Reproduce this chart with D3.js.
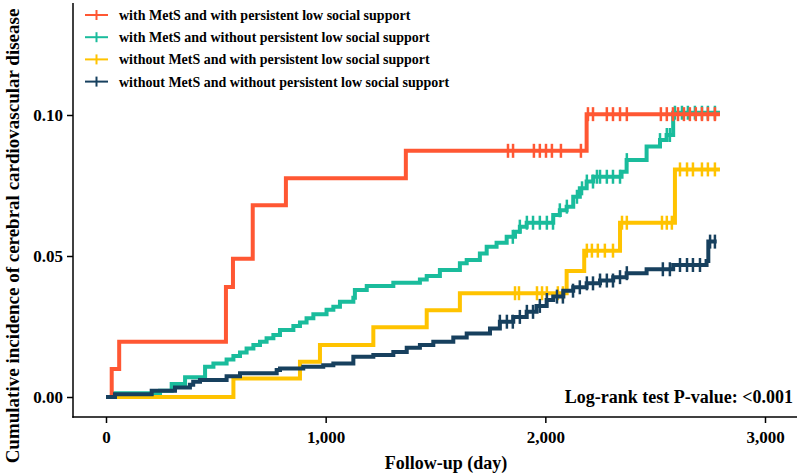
<!DOCTYPE html>
<html>
<head>
<meta charset="utf-8">
<script src="https://cdn.jsdelivr.net/npm/d3@7"></script>
<style>
  body { margin: 0; background: #fff; }
  text { font-family: "Liberation Serif", "Times New Roman", serif; font-weight: bold; fill: #000; }
</style>
</head>
<body>
<div id="chart"></div>
<script>
// Kaplan-Meier style cumulative incidence, 4 groups

var groupNames = [
  "with MetS and with persistent low social support",
  "with MetS and without persistent low social support",
  "without MetS and with persistent low social support",
  "without MetS and without persistent low social support"
];
var groupColors = ["#FF5733", "#1ABC9C", "#FFC300", "#17405E"];

// step times (days) and cumulative incidence after each step
var redDays = [0, 26, 60, 546, 578, 668, 819, 1365, 2188, 2795];
var redVals = [0, 0.0099, 0.0196, 0.039, 0.049, 0.068, 0.0776, 0.0873, 0.1003, 0.1003];
var redCensor = [1830, 1853, 1948, 1975, 2003, 2030, 2071, 2162, 2194, 2217, 2280, 2308, 2340, 2371,
  2526, 2553, 2581, 2604, 2631, 2658, 2685, 2713, 2740, 2772];

var tealDays = [0, 41, 246, 299, 360, 451, 489, 549, 580, 610, 640, 671, 701, 731, 762, 792, 853, 883, 913,
  944, 1004, 1035, 1065, 1126, 1133, 1187, 1308, 1429, 1460, 1520, 1611, 1642, 1702, 1733, 1778, 1824,
  1862, 1884, 1915, 2036, 2066, 2097, 2127, 2157, 2188, 2218, 2347, 2370, 2461, 2522, 2552, 2582, 2795];
var tealVals = [0, 0.0013, 0.0022, 0.0046, 0.007, 0.0107, 0.0119, 0.0133, 0.0145, 0.0158, 0.0172, 0.0184,
  0.0196, 0.0208, 0.022, 0.0238, 0.0252, 0.0264, 0.0279, 0.0293, 0.0309, 0.032, 0.0338, 0.0352, 0.0379,
  0.0394, 0.0405, 0.0417, 0.0429, 0.045, 0.0474, 0.0486, 0.0509, 0.0533, 0.0547, 0.0568, 0.0586, 0.0604,
  0.0618, 0.0645, 0.0662, 0.0675, 0.071, 0.074, 0.0764, 0.0781, 0.0799, 0.084, 0.0888, 0.0911, 0.0929,
  0.1008, 0.1008];
var tealCensor = [1852, 1884, 1916, 1944, 1975, 2007, 2035, 2066, 2098, 2144, 2167, 2189, 2217, 2235, 2249,
  2280, 2308, 2340, 2371, 2522, 2553, 2567, 2590, 2622, 2649, 2681, 2713, 2740, 2772];

var yellowDays = [0, 580, 883, 974, 1217, 1460, 1611, 2097, 2177, 2340, 2590, 2795];
var yellowVals = [0, 0.0066, 0.0125, 0.0184, 0.0247, 0.0308, 0.0368, 0.0447, 0.0519, 0.0618, 0.0807, 0.0807];
var yellowCensor = [1862, 1880, 1962, 1985, 2007, 2057, 2080, 2189, 2212, 2239, 2271, 2308, 2349, 2371,
  2531, 2553, 2576, 2613, 2645, 2672, 2713, 2740, 2772];

var navyDays = [0, 41, 208, 314, 382, 397, 428, 549, 610, 777, 792, 898, 989, 1035, 1126, 1217, 1308, 1369,
  1429, 1490, 1581, 1642, 1748, 1793, 1854, 1915, 1960, 2006, 2036, 2082, 2127, 2188, 2249, 2309, 2370,
  2461, 2582, 2734, 2742, 2780];
var navyVals = [0, 0.001, 0.0022, 0.0034, 0.0043, 0.0054, 0.006, 0.0074, 0.0084, 0.0096, 0.0101, 0.0107,
  0.0113, 0.0119, 0.0143, 0.0149, 0.016, 0.0175, 0.0184, 0.0196, 0.0211, 0.0225, 0.0243, 0.0267, 0.0284,
  0.0302, 0.0323, 0.0344, 0.0356, 0.0377, 0.0389, 0.0403, 0.0413, 0.0425, 0.0439, 0.0453, 0.0468, 0.0482,
  0.0551, 0.0551];
var navyCensor = [1793, 1825, 1852, 1884, 1916, 1944, 1975, 2007, 2053, 2080, 2126, 2157, 2189, 2217, 2249,
  2280, 2308, 2340, 2371, 2535, 2567, 2613, 2645, 2672, 2704, 2750, 2772];

var xTicks = [0, 1000, 2000, 3000];
var yTicks = [0, 0.05, 0.10];

var series = [
  { days: tealDays, vals: tealVals, censor: tealCensor, color: groupColors[1] },
  { days: redDays, vals: redVals, censor: redCensor, color: groupColors[0] },
  { days: yellowDays, vals: yellowVals, censor: yellowCensor, color: groupColors[2] },
  { days: navyDays, vals: navyVals, censor: navyCensor, color: groupColors[3] }
];

var totwidth = 800, totheight = 475;
var panel = { left: 73, right: 797, top: 3, bottom: 417 };

var x = d3.scaleLinear().domain([0, 3000]).range([106, 765]);
var y = d3.scaleLinear().domain([0, 0.1]).range([397, 115]);

var svg = d3.select("#chart").append("svg")
    .attr("width", totwidth)
    .attr("height", totheight);

// curves
var line = d3.line()
    .x(function(d) { return x(d[0]); })
    .y(function(d) { return y(d[1]); })
    .curve(d3.curveStepAfter);

series.forEach(function(s) {
  var pts = s.days.map(function(d, i) { return [d, s.vals[i]]; });
  svg.append("path")
      .attr("d", line(pts))
      .attr("fill", "none")
      .attr("stroke", s.color)
      .attr("stroke-width", 4);

  // censor marks sit on the curve value at that time
  var bis = d3.bisector(function(d) { return d; }).right;
  svg.selectAll(null)
      .data(s.censor)
      .enter().append("line")
        .attr("x1", function(d) { return x(d); })
        .attr("x2", function(d) { return x(d); })
        .attr("y1", function(d) { return y(s.vals[bis(s.days, d) - 1]) - 7; })
        .attr("y2", function(d) { return y(s.vals[bis(s.days, d) - 1]) + 7; })
        .attr("stroke", s.color)
        .attr("stroke-width", 2.5);
});

// axes
var xAxis = svg.append("g")
    .attr("transform", "translate(0," + panel.bottom + ")")
    .call(d3.axisBottom(x).tickValues(xTicks).tickSize(6).tickPadding(8).tickFormat(d3.format(",")));
xAxis.select(".domain").remove();
xAxis.append("line")
    .attr("x1", panel.left - 0.75).attr("x2", panel.right)
    .attr("stroke", "#000").attr("stroke-width", 1.5);

var yAxis = svg.append("g")
    .attr("transform", "translate(" + panel.left + ",0)")
    .call(d3.axisLeft(y).tickValues(yTicks).tickSize(6).tickPadding(4).tickFormat(d3.format(".2f")));
yAxis.select(".domain").remove();
yAxis.append("line")
    .attr("y1", panel.top).attr("y2", panel.bottom + 0.75)
    .attr("stroke", "#000").attr("stroke-width", 1.5);

svg.selectAll(".tick line").attr("stroke", "#000").attr("stroke-width", 1.5);
svg.selectAll(".tick text")
    .style("font-family", "'Liberation Serif', serif")
    .style("font-weight", "bold")
    .style("font-size", "17px")
    .attr("fill", "#000");

// axis titles
svg.append("text")
    .attr("x", 446)
    .attr("y", 469)
    .attr("text-anchor", "middle")
    .style("font-size", "18px")
    .text("Follow-up (day)");

svg.append("text")
    .attr("transform", "translate(19,236) rotate(-90)")
    .attr("text-anchor", "middle")
    .style("font-size", "19px")
    .text("Cumulative incidence of cerebral cardiovascular disease");

// log-rank annotation
svg.append("text")
    .attr("x", 793)
    .attr("y", 403)
    .attr("text-anchor", "end")
    .style("font-size", "18px")
    .text("Log-rank test P-value: <0.001");

// legend
var legend = svg.append("g");
groupNames.forEach(function(name, i) {
  var cy = 15 + i * 22.2;
  legend.append("line")
      .attr("x1", 85).attr("x2", 108).attr("y1", cy).attr("y2", cy)
      .attr("stroke", groupColors[i]).attr("stroke-width", 2);
  legend.append("line")
      .attr("x1", 96.5).attr("x2", 96.5).attr("y1", cy - 5).attr("y2", cy + 5)
      .attr("stroke", groupColors[i]).attr("stroke-width", 2);
  legend.append("text")
      .attr("x", 119)
      .attr("y", cy + 5)
      .style("font-size", "14px")
      .text(name);
});
</script>
</body>
</html>
